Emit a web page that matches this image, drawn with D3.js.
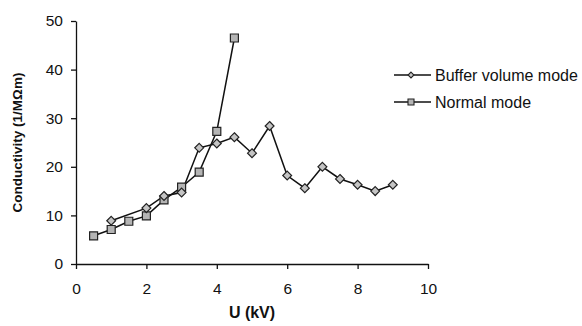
<!DOCTYPE html>
<html>
<head>
<meta charset="utf-8">
<script src="https://cdn.jsdelivr.net/npm/d3@7"></script>
<style>
  body { margin: 0; background: #fff; }
  svg { display: block; font-family: "Liberation Sans", Arial, sans-serif; }
</style>
</head>
<body>
<svg id="chart" width="582" height="326"></svg>
<script>
// data
const bufferU = [1, 2, 2.5, 3, 3.5, 4, 4.5, 5, 5.5, 6, 6.5, 7, 7.5, 8, 8.5, 9];
const bufferC = [8.9, 11.5, 14.0, 14.7, 23.9, 24.8, 26.1, 22.8, 28.4, 18.2, 15.6, 20.0, 17.5, 16.3, 15.0, 16.3];
const normalU = [0.5, 1, 1.5, 2, 2.5, 3, 3.5, 4, 4.5];
const normalC = [5.8, 7.1, 8.8, 9.9, 13.2, 15.8, 18.9, 27.3, 46.5];
const xTicks = [0, 2, 4, 6, 8, 10];
const yTicks = [0, 10, 20, 30, 40, 50];

const margin = { left: 76, top: 21, right: 154, bottom: 62 };
const width = 582 - margin.left - margin.right;
const height = 326 - margin.top - margin.bottom;

const svg = d3.select("#chart");
const g = svg.append("g").attr("transform", `translate(${margin.left},${margin.top})`);

const x = d3.scaleLinear().domain([0, 10]).range([0, width]);
const y = d3.scaleLinear().domain([0, 50]).range([height, 0]);

const xAxis = g.append("g")
  .attr("transform", `translate(0,${height})`)
  .call(d3.axisBottom(x).tickValues(xTicks).tickSize(5).tickPadding(14).tickSizeOuter(0));
const yAxis = g.append("g")
  .call(d3.axisLeft(y).tickValues(yTicks).tickSize(5).tickPadding(8).tickSizeOuter(0));

[xAxis, yAxis].forEach((a) => {
  a.select(".domain").attr("stroke", "#111").attr("stroke-width", 1.3);
  a.selectAll(".tick line").attr("stroke", "#111").attr("stroke-width", 1.3);
  a.selectAll(".tick text").attr("font-size", 15.5).attr("fill", "#111")
    .attr("font-family", "'Liberation Sans', Arial, sans-serif");
});

const line = d3.line().x((d) => x(d[0])).y((d) => y(d[1]));
const buffer = bufferU.map((u, i) => [u, bufferC[i]]);
const normal = normalU.map((u, i) => [u, normalC[i]]);

g.append("path").datum(normal).attr("d", line)
  .attr("fill", "none").attr("stroke", "#111").attr("stroke-width", 1.5);
g.append("path").datum(buffer).attr("d", line)
  .attr("fill", "none").attr("stroke", "#111").attr("stroke-width", 1.5);

const diamond = d3.symbol().type(d3.symbolDiamond2).size(50);
const square = d3.symbol().type(d3.symbolSquare).size(64);

g.selectAll(".sq").data(normal).join("path").attr("class", "sq")
  .attr("d", square)
  .attr("transform", (d) => `translate(${x(d[0])},${y(d[1])})`)
  .attr("fill", "#b4b4b4").attr("stroke", "#222").attr("stroke-width", 1.2);
g.selectAll(".dm").data(buffer).join("path").attr("class", "dm")
  .attr("d", diamond)
  .attr("transform", (d) => `translate(${x(d[0])},${y(d[1])})`)
  .attr("fill", "#c4c4c4").attr("stroke", "#222").attr("stroke-width", 1.2);

// axis titles
svg.append("text")
  .attr("x", margin.left + width / 2).attr("y", 318)
  .attr("text-anchor", "middle").attr("font-size", 16).attr("font-weight", "bold")
  .attr("fill", "#111").text("U (kV)");
svg.append("text")
  .attr("transform", `translate(22,${margin.top + height / 2}) rotate(-90)`)
  .attr("text-anchor", "middle").attr("font-size", 13.5).attr("font-weight", "bold")
  .attr("fill", "#111").text("Conductivity (1/MΩm)");

// legend
const legend = [
  { label: "Buffer volume mode", sym: d3.symbol().type(d3.symbolDiamond2).size(22), fill: "#c4c4c4", y: 75 },
  { label: "Normal mode", sym: d3.symbol().type(d3.symbolSquare).size(36), fill: "#b4b4b4", y: 102 },
];
const lg = svg.append("g").selectAll("g").data(legend).join("g")
  .attr("transform", (d) => `translate(394,${d.y})`);
lg.append("line").attr("x1", 0).attr("x2", 37).attr("stroke", "#111").attr("stroke-width", 1.5);
lg.append("path").attr("d", (d) => d.sym())
  .attr("transform", "translate(17,0)")
  .attr("fill", (d) => d.fill).attr("stroke", "#222").attr("stroke-width", 1.1);
lg.append("text").attr("x", 41).attr("dy", "0.35em")
  .attr("font-size", 16).attr("fill", "#111").text((d) => d.label);
</script>
</body>
</html>
